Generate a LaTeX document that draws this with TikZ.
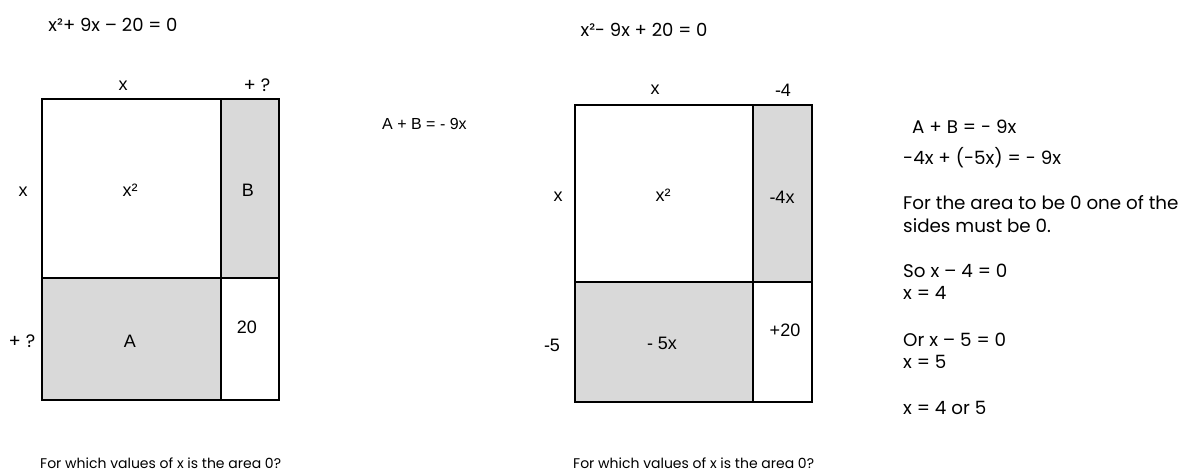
\documentclass[tikz,border=0pt]{standalone}
\usepackage{fontspec}
\setmainfont{Liberation Sans}
\newfontfamily\gothic{Poppins}
\definecolor{cellgray}{HTML}{D9D9D9}
\tikzset{
  cell/.style={draw=black, line width=2.2pt, inner sep=0pt, anchor=north west},
  shaded/.style={cell, fill=cellgray},
  plain/.style={cell, fill=white},
  lab/.style={inner sep=0pt, font=\fontsize{18}{21}\selectfont},
  glab/.style={inner sep=0pt, font=\gothic\fontsize{18}{21}\selectfont},
  gtext/.style={inner sep=0pt, anchor=west, font=\gothic\fontsize{18.3}{21}\selectfont},
  qtext/.style={inner sep=0pt, anchor=west, font=\gothic\fontsize{14}{17}\selectfont},
}
\begin{document}
\begin{tikzpicture}[x=1pt,y=-1pt]
\useasboundingbox[fill=white] (0,0) rectangle (1192,472);
% ---------- left diagram ----------
\node[glab] (eqA) at (113,25) {x²+ 9x – 20 = 0};
\node[plain, minimum width=179pt, minimum height=179pt] (LTL) at (41,98) {};
\node[shaded, minimum width=58pt, minimum height=179pt] (LTR) at (220,98) {};
\node[shaded, minimum width=179pt, minimum height=122pt] (LBL) at (41,277) {};
\node[plain, minimum width=58pt, minimum height=122pt] (LBR) at (220,277) {};
\node[lab] (LtopX) at (123,86) {x};
\node[glab] (LtopQ) at (257,85) {+ ?};
\node[lab] (LleftX) at (23,192) {x};
\node[glab] (LleftQ) at (22,341) {+ ?};
\node[lab] (Lx2) at (130,190) {x²};
\node[lab] (LB) at (248,190) {B};
\node[lab] (LA) at (130,341) {A};
\node[lab] (L20) at (247,327) {20};
\node[lab, anchor=west, font=\fontsize{16}{19}\selectfont] (midAB) at (382,124) {A + B = - 9x};
\node[qtext] (Lq) at (40,463) {For which values of x is the area 0?};
% ---------- right diagram ----------
\node[glab] (eqB) at (644,30) {x²- 9x + 20 = 0};
\node[plain, minimum width=178pt, minimum height=177pt] (RTL) at (574,104) {};
\node[shaded, minimum width=59pt, minimum height=177pt] (RTR) at (752,104) {};
\node[shaded, minimum width=178pt, minimum height=120pt] (RBL) at (574,281) {};
\node[plain, minimum width=59pt, minimum height=120pt] (RBR) at (752,281) {};
\node[lab] (RtopX) at (655,90) {x};
\node[lab] (Rtop4) at (783,90) {-4};
\node[lab] (RleftX) at (558,197) {x};
\node[lab] (Rleft5) at (552,345) {-5};
\node[lab] (Rx2) at (663,195) {x²};
\node[lab] (R4x) at (782,197) {-4x};
\node[lab] (R5x) at (662,343) {- 5x};
\node[lab] (R20) at (785,330) {+20};
\node[qtext] (Rq) at (573,463) {For which values of x is the area 0?};
% ---------- right-hand working ----------
\node[gtext] (w1) at (912,127) {A + B = - 9x};
\node[gtext] (w2) at (903,158) {-4x + (-5x) = - 9x};
\node[gtext] (w3) at (903,203) {For the area to be 0 one of the};
\node[gtext] (w4) at (903,226) {sides must be 0.};
\node[gtext] (w5) at (903,271) {So x – 4 = 0};
\node[gtext] (w6) at (903,293) {x = 4};
\node[gtext] (w7) at (903,340) {Or x – 5 = 0};
\node[gtext] (w8) at (903,362) {x = 5};
\node[gtext] (w9) at (903,408) {x = 4 or 5};
\end{tikzpicture}
\end{document}
